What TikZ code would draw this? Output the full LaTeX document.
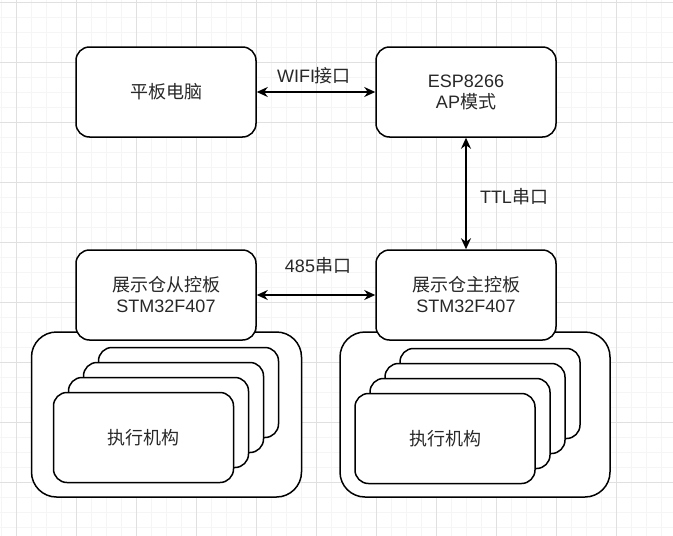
\documentclass[tikz,border=0pt]{standalone}
\usepackage{fontspec}
\setmainfont{Liberation Sans}
\newfontfamily\cjk{Noto Sans CJK SC}
\usepackage{tikz}
\usetikzlibrary{arrows.meta, positioning}
\definecolor{gridminor}{RGB}{245, 245, 245}
\definecolor{gridmajor}{RGB}{224, 224, 224}
\definecolor{labelgray}{RGB}{40, 40, 40}

\tikzset{
    board/.style={draw, fill=white, rounded corners=13.5pt, line width=1.5pt,
        minimum width=180pt, minimum height=90pt, inner sep=0pt, align=center,
        text=labelgray, font=\fontsize{18pt}{21pt}\selectfont},
    holder/.style={draw, fill=white, rounded corners=25pt, line width=1.5pt,
        minimum width=270pt, minimum height=165pt},
    link/.style={{Stealth[length=11pt, width=10pt]}-{Stealth[length=11pt, width=10pt]}, line width=1.5pt},
    tag/.style={text=labelgray, font=\fontsize{18pt}{21pt}\selectfont}
}

\begin{document}
\begin{tikzpicture}[x=1pt, y=-1pt]
    \useasboundingbox (0,0) rectangle (673,536);
    \fill[white] (0,0) rectangle (673,536);

    % Grid
    \foreach \x in {1,16,...,673} \draw[gridminor, line width=1pt] (\x,0) -- (\x,536);
    \foreach \y in {2,17,...,536} \draw[gridminor, line width=1pt] (0,\y) -- (673,\y);
    \foreach \x in {16,76,...,673} \draw[gridmajor, line width=1pt] (\x,0) -- (\x,536);
    \foreach \y in {2,62,...,536} \draw[gridmajor, line width=1pt] (0,\y) -- (673,\y);

    % Top row
    \node[board] (pad) at (166,92) {\cjk 平板电脑};
    \node[board] (esp) at (466,92) {ESP8266\\AP{\cjk 模式}};

    % Containers with actuators
    \node[holder] (lholder) at (166.5,414.5) {};
    \node[holder] (rholder) at (475,414.5) {};
    \foreach \i in {3,2,1} {
        \node[board] (lcard\i) at ({143.5+15*\i},{437.5-15*\i}) {};
        \node[board] (rcard\i) at ({445+15*\i},{438.5-15*\i}) {};
    }
    \node[board] (lcard0) at (143.5,437.5) {\cjk 执行机构};
    \node[board] (rcard0) at (445,438.5) {\cjk 执行机构};

    % Control boards
    \node[board] (slave) at (166,295) {{\cjk 展示仓从控板}\\STM32F407};
    \node[board] (master) at (466,295) {{\cjk 展示仓主控板}\\STM32F407};

    % Links
    \draw[link] (pad) -- (esp);
    \node[tag] (wifilabel) at (314,76) {WIFI{\cjk 接口}};
    \draw[link] (esp) -- (master);
    \node[tag] (ttllabel) at (514,197) {TTL{\cjk 串口}};
    \draw[link] (slave) -- (master);
    \node[tag] (rs485label) at (318,266) {485{\cjk 串口}};

\end{tikzpicture}
\end{document}
